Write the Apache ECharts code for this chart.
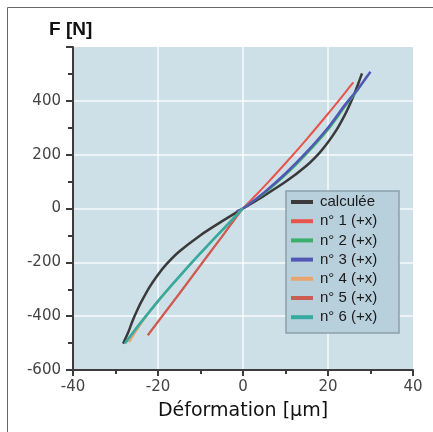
<!DOCTYPE html>
<html><head><meta charset="utf-8">
<script src="https://cdn.jsdelivr.net/npm/echarts@6/dist/echarts.min.js"></script>
<style>html,body{margin:0;padding:0;background:#fff}#c{width:433px;height:432px}</style>
</head><body><div id="c"></div>
<script>
// ---- data (x = déformation [µm], y = F [N]) ----
var seriesNames = ['calculée', 'n° 1 (+x)', 'n° 2 (+x)', 'n° 3 (+x)', 'n° 4 (+x)', 'n° 5 (+x)', 'n° 6 (+x)'];
var calculee = [[-28.2,-502],[-27,-460],[-26,-418],[-25,-382],[-24,-349],[-22,-292],[-20,-246],[-18,-207],[-15,-160],[-10,-99],[-5,-48],[0,0],[5,48],[10,99],[15,160],[18,207],[20,246],[22,292],[24,349],[25,382],[26,418],[27,459],[28,502]];
var n1 = [[-22.4,-470],[-15,-316],[-10,-210],[-5,-105],[0,0],[3,49],[6,99],[10,168],[15,258],[20,352],[24,430],[25.95,469]];
var n2 = [[-27.6,-499],[-25,-442],[-22.8,-398],[-17,-288],[-12,-199],[-6,-98],[0,0],[5,56],[10,124],[15,203],[20,292],[24,378],[27,440],[29.3,495]];
var n3 = [[-1.5,-10],[0,0],[5,60],[10,130],[15,210],[20,300],[24,385],[27,443],[30,508]];
var n4 = [[-26.8,-497],[-25,-452],[-22.8,-402],[-20,-346],[-17,-290],[-12,-200],[-6,-99],[0,0]];
var n5 = [[-22.4,-471],[-15,-317],[-10,-211],[-5,-106],[-0.5,-6]];
var n6 = [[-27.8,-501],[-25,-443],[-22.8,-399],[-20,-344],[-17,-289],[-12,-200],[-8,-132],[-4,-66],[0,0]];
var seriesData = [calculee, n1, n2, n3, n4, n5, n6];
var seriesColors = ['#3a3a3a', '#e8544c', '#3cb06a', '#5257b5', '#e8a46c', '#cc5d52', '#36a9a0'];
var seriesWidths = [2.5, 2, 2, 2.5, 2, 2, 2.5];
var xTicks = {min: -40, max: 40, step: 20};
var yTicks = {min: -600, max: 600, step: 200};

var chart = echarts.init(document.getElementById('c'), null, {renderer: 'canvas'});
var series = seriesNames.map(function (n, i) {
  return {
    name: n, type: 'line', data: seriesData[i], showSymbol: false, symbol: 'none',
    smooth: 0.25,
    lineStyle: {color: seriesColors[i], width: seriesWidths[i]},
    itemStyle: {color: seriesColors[i]}
  };
});
chart.setOption({
  animation: false,
  backgroundColor: '#fff',
  title: {text: 'F [N]', left: 49, top: 20, padding: 0,
    textStyle: {fontFamily: 'Liberation Sans', fontWeight: 'bold', fontSize: 19, color: '#111'}},
  grid: {left: 73, right: 20, top: 47, bottom: 62, show: true, backgroundColor: '#cde0e8', borderWidth: 0},
  graphic: [
    {type: 'rect', shape: {x: 7.5, y: 7.5, width: 600, height: 600}, style: {fill: 'none', stroke: '#666', lineWidth: 1}, z: -1},
    {type: 'rect', shape: {x: 286, y: 191, width: 113, height: 142}, style: {fill: '#b8d0dc', stroke: '#8aa0ab', lineWidth: 1.5}, z: 3}
  ],
  legend: {
    orient: 'vertical', left: 291, top: 194.5, padding: 0, itemGap: 4.2,
    itemWidth: 22, itemHeight: 4, icon: 'rect',
    textStyle: {fontFamily: 'Liberation Sans', fontSize: 15, color: '#1a1a1a', lineHeight: 15, padding: [0, 0, 0, 2]},
    data: seriesNames.map(function (n) { return {name: n, icon: 'rect'}; }),
    z: 5
  },
  xAxis: {
    type: 'value', min: xTicks.min, max: xTicks.max, interval: xTicks.step,
    name: 'Déformation [µm]', nameLocation: 'middle', nameGap: 32,
    nameTextStyle: {fontFamily: 'DejaVu Sans', fontSize: 19, color: '#111'},
    axisLine: {show: true, onZero: false, lineStyle: {color: '#3c3c3c', width: 2}},
    axisTick: {show: true, length: 6, lineStyle: {color: '#3c3c3c', width: 2}},
    minorTick: {show: true, splitNumber: 2, length: 4, lineStyle: {color: '#3c3c3c', width: 2}},
    axisLabel: {margin: 10, fontFamily: 'DejaVu Sans', fontSize: 15, color: '#444'},
    splitLine: {show: true, showMinLine: false, showMaxLine: false, lineStyle: {color: 'rgba(255,255,255,0.85)', width: 1.5}}
  },
  yAxis: {
    type: 'value', min: yTicks.min, max: yTicks.max, interval: yTicks.step,
    axisLine: {show: true, onZero: false, lineStyle: {color: '#3c3c3c', width: 2}},
    axisTick: {show: true, length: 7, lineStyle: {color: '#3c3c3c', width: 2}},
    minorTick: {show: true, splitNumber: 2, length: 5, lineStyle: {color: '#3c3c3c', width: 2}},
    axisLabel: {margin: 12, fontFamily: 'DejaVu Sans', fontSize: 15, color: '#444', showMaxLabel: false},
    splitLine: {show: true, showMinLine: false, showMaxLine: false, lineStyle: {color: 'rgba(255,255,255,0.85)', width: 1.5}}
  },
  series: series
});
</script></body></html>
